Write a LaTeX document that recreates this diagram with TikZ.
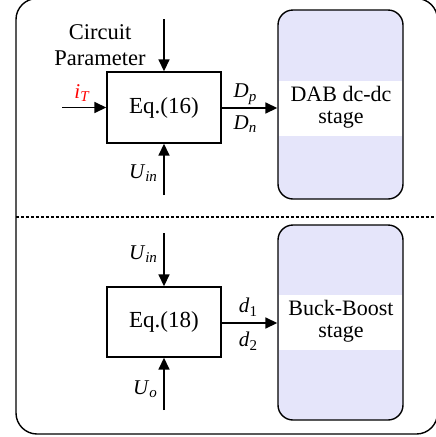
\documentclass[tikz,border=0pt]{standalone}
\usepackage{fontspec}
\setmainfont{Liberation Serif}
\usetikzlibrary{arrows.meta}
\definecolor{stagefill}{RGB}{229,229,250}
\newcommand{\subit}[2]{\textit{#1}\raisebox{-3.5pt}{\fontsize{15}{15}\selectfont\textit{#2}}}
\newcommand{\subrm}[2]{\textit{#1}\raisebox{-3.5pt}{\fontsize{15}{15}\selectfont #2}}
\begin{document}
\begin{tikzpicture}[x=1pt,y=-1pt,
  eqbox/.style={draw,line width=1.4pt,minimum width=114pt,minimum height=71pt,inner sep=0pt,font=\fontsize{23}{27}\selectfont},
  stagebox/.style={draw,line width=1.4pt,fill=stagefill,rounded corners=15pt,minimum width=125pt,inner sep=0pt},
  stagetext/.style={align=center,font=\fontsize{22}{22}\selectfont,inner sep=0pt},
  conn/.style={line width=1.6pt,-{Triangle[length=12pt,width=11pt]}},
  lbl/.style={font=\fontsize{21}{22}\selectfont,inner sep=0pt},
  frame/.style={line width=1.4pt,rounded corners=21pt}]
\useasboundingbox (0,0) rectangle (436,437);
% outer frame
\draw[frame] (16,-1.5) rectangle (437.5,434);
\draw[line width=1.2pt,dash pattern=on 3pt off 2pt] (16,217) -- (436,217);

% ---------- top section ----------
\node[eqbox] (eq16) at (164,107.5) {Eq.(16)};
\node[stagebox,minimum height=189pt] (dab) at (340.5,104.5) {};
\fill[white] (279,81) rectangle (402,136);
\node[stagetext] (dabt) at (341,107.5) {DAB dc-dc\\stage};

\node[align=center,font=\fontsize{22.5}{26}\selectfont,inner sep=0pt] (cp) at (100,45) {Circuit\\Parameter};
\coordinate (cpin) at (164,19);
\coordinate (itin) at (62,107.5);
\coordinate (uin1) at (164,195);
\draw[conn] (cpin) -- (eq16.north);
\draw[conn] (itin) -- (eq16.west);
\draw[conn] (uin1) -- (eq16.south);
\draw[conn] (eq16.east |- 0,108) -- (dab.west |- 0,108);

\node[lbl,text=red] (it) at (82,93) {\subit{i}{T}};
\node[lbl] (ulab1) at (143,173) {\subit{U}{in}};
\node[lbl] (dp) at (245,94) {\subit{D}{p}};
\node[lbl] (dn) at (245,124) {\subit{D}{n}};

% ---------- bottom section ----------
\node[eqbox,minimum height=70pt] (eq18) at (164,322) {Eq.(18)};
\node[stagebox,minimum height=195pt] (buck) at (340.5,322.5) {};
\fill[white] (279,295) rectangle (402,350);
\node[stagetext] (buckt) at (341,321) {Buck-Boost\\stage};

\coordinate (uin2) at (164,233);
\coordinate (uo) at (164,410);
\draw[conn] (uin2) -- (eq18.north);
\draw[conn] (uo) -- (eq18.south);
\draw[conn] (eq18.east |- 0,323) -- (buck.west |- 0,323);

\node[lbl] (ulab2) at (143,254) {\subit{U}{in}};
\node[lbl] (uolab) at (145,389) {\subit{U}{o}};
\node[lbl] (d1) at (248,307) {\subrm{d}{1}};
\node[lbl] (d2) at (248,341) {\subrm{d}{2}};
\end{tikzpicture}
\end{document}
